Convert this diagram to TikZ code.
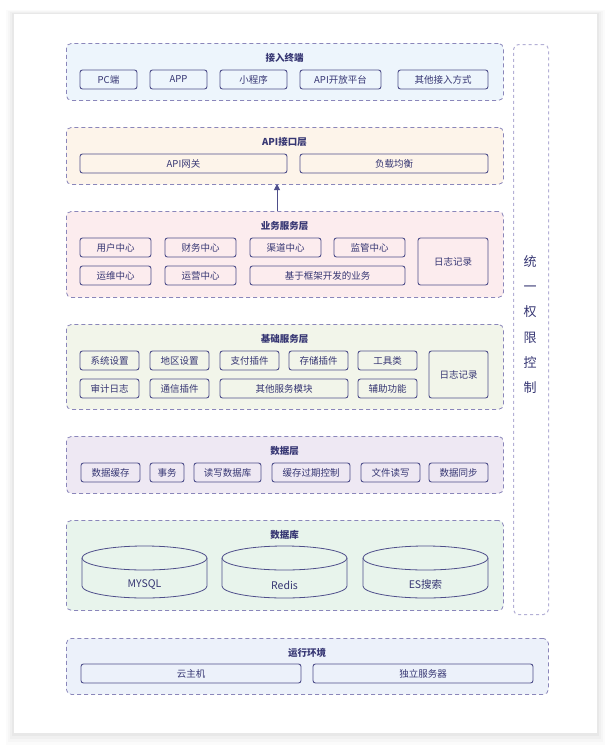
\documentclass[tikz,border=0pt]{standalone}
\usepackage{fontspec}
\setmainfont{Noto Sans CJK SC}
\usetikzlibrary{arrows.meta}
\definecolor{txt}{HTML}{363673}
\definecolor{itemline}{HTML}{4E4E8A}
\definecolor{dashline}{HTML}{8A86BA}
\definecolor{dashlight}{HTML}{B4B0D6}
\definecolor{fA}{HTML}{EDF5FC}
\definecolor{fB}{HTML}{FDF4EA}
\definecolor{fC}{HTML}{FCECEE}
\definecolor{fD}{HTML}{F2F5EA}
\definecolor{fE}{HTML}{EEE8F3}
\definecolor{fF}{HTML}{E8F4EC}
\definecolor{fG}{HTML}{ECF1FA}
\tikzset{
  layerbox/.style={draw=dashline, dash pattern=on 4pt off 3pt, line width=0.8pt, rounded corners=5pt, inner sep=0pt, anchor=north west},
  itembox/.style={draw=itemline, line width=0.9pt, rounded corners=2.5pt, inner sep=0pt, minimum height=19pt, text=txt, font=\fontsize{9.5}{10}\selectfont},
  layertitle/.style={text=txt, font=\fontsize{9.5}{10}\selectfont\bfseries, inner sep=0pt},
  cyl/.style={draw=itemline, line width=0.8pt},
  cyllabel/.style={text=txt, font=\fontsize{10.5}{11}\selectfont, inner sep=0pt}
}
% \lbox{name}{x1}{y1}{x2}{y2}{fill}
\newcommand{\lbox}[6]{\node[layerbox, fill=#6, minimum width={#4-#2}, minimum height={#5-#3}] (#1) at (#2,-#3) {};}
% \ibox{name}{x1}{x2}{y1}{y2}{text}
\newcommand{\ibox}[6]{\node[itembox, minimum width={#3-#2}, minimum height={#5-#4}] (#1) at ({(#2+#3)/2},{-(#4+#5)/2}) {#6};}
\newcommand{\cylinder}[3]{%
  \fill[fF] (#1-62.5,-558) -- (#1-62.5,-586) arc (180:360:62.5 and 12) -- (#1+62.5,-558) -- cycle;
  \draw[cyl] (#1-62.5,-558) -- (#1-62.5,-586) arc (180:360:62.5 and 12) -- (#1+62.5,-558);
  \draw[cyl, fill=fF] (#1,-558) ellipse (62.5 and 12);
  \node[cyllabel] (#2) at (#1,-585) {#3};}
\begin{document}
\begin{tikzpicture}[x=1pt,y=1pt]
\useasboundingbox (0,0) rectangle (612,-748);
% card shadow
\foreach \d/\o in {8/0.015,6/0.02,4/0.025,2/0.03}{
  \fill[black, opacity=\o] (14-\d,-14+\d*0.5) rectangle (597+\d,-733-\d*1.5);
}
\fill[white] (14,-14) rectangle (597,-733);

% right permission box
\node[draw=dashlight, dash pattern=on 3pt off 3pt, line width=1pt, rounded corners=5pt, minimum width=35pt, minimum height=570pt, inner sep=0pt, anchor=north west] (perm) at (513,-44) {};
\node[text=txt, font=\fontsize{13}{25.3}\selectfont, align=center, inner sep=0pt] (permtext) at (530,-324.5) {统\\一\\权\\限\\控\\制};

% layer 1
\lbox{L1}{66}{43}{503}{100}{fA}
\node[layertitle] (t1) at (284.5,-58) {接入终端};
\ibox{a1}{80}{137}{70}{89}{PC端}
\ibox{a2}{150}{207}{70}{89}{APP}
\ibox{a3}{220}{287}{70}{89}{小程序}
\ibox{a4}{300}{381}{70}{89}{API开放平台}
\ibox{a5}{398}{488}{70}{89}{其他接入方式}

% layer 2
\lbox{L2}{66}{127}{503}{184}{fB}
\node[layertitle] (t2) at (284.5,-142) {API接口层};
\ibox{b1}{80}{287}{154}{173}{API网关}
\ibox{b2}{300}{488}{154}{173}{负载均衡}

% layer 3
\lbox{L3}{66}{211}{503}{297}{fC}
\node[layertitle] (t3) at (284.5,-226) {业务服务层};
\ibox{c1}{80}{151}{238}{257}{用户中心}
\ibox{c2}{165}{236}{238}{257}{财务中心}
\ibox{c3}{250}{321}{238}{257}{渠道中心}
\ibox{c4}{334}{405}{238}{257}{监管中心}
\ibox{c5}{80}{151}{266}{285}{运维中心}
\ibox{c6}{165}{236}{266}{285}{运营中心}
\ibox{c7}{250}{405}{266}{285}{基于框架开发的业务}
\ibox{c8}{418}{488}{238}{285}{日志记录}

% arrow
\coordinate (arrS) at (277,-211);
\coordinate (arrE) at (277,-184);
\draw[itemline, line width=0.9pt, -{Triangle[length=6pt,width=6pt]}] (arrS) -- (arrE);

% layer 4
\lbox{L4}{66}{324}{503}{409}{fD}
\node[layertitle] (t4) at (284.5,-339) {基础服务层};
\ibox{d1}{80}{139}{351}{370}{系统设置}
\ibox{d2}{150}{209}{351}{370}{地区设置}
\ibox{d3}{220}{279}{351}{370}{支付插件}
\ibox{d4}{289}{348}{351}{370}{存储插件}
\ibox{d5}{358}{417}{351}{370}{工具类}
\ibox{d6}{80}{139}{379}{398}{审计日志}
\ibox{d7}{150}{209}{379}{398}{通信插件}
\ibox{d8}{220}{348}{379}{398}{其他服务模块}
\ibox{d9}{358}{417}{379}{398}{辅助功能}
\ibox{d10}{429}{488}{351}{398}{日志记录}

% layer 5
\lbox{L5}{66}{436}{503}{493}{fE}
\node[layertitle] (t5) at (284.5,-451) {数据层};
\ibox{e1}{81}{140}{463}{482}{数据缓存}
\ibox{e2}{150}{184}{463}{482}{事务}
\ibox{e3}{194}{261}{463}{482}{读写数据库}
\ibox{e4}{272}{350}{463}{482}{缓存过期控制}
\ibox{e5}{361}{420}{463}{482}{文件读写}
\ibox{e6}{429}{488}{463}{482}{数据同步}

% layer 6
\lbox{L6}{66}{520}{503}{610}{fF}
\node[layertitle] (t6) at (284.5,-535) {数据库};
\cylinder{144.5}{db1}{MYSQL}
\cylinder{284.5}{db2}{Redis}
\cylinder{425.5}{db3}{ES搜索}

% layer 7
\lbox{L7}{66}{638}{548}{694}{fG}
\node[layertitle] (t7) at (307,-653) {运行环境};
\ibox{g1}{81}{301}{664}{683}{云主机}
\ibox{g2}{313}{533}{664}{683}{独立服务器}
\end{tikzpicture}
\end{document}
